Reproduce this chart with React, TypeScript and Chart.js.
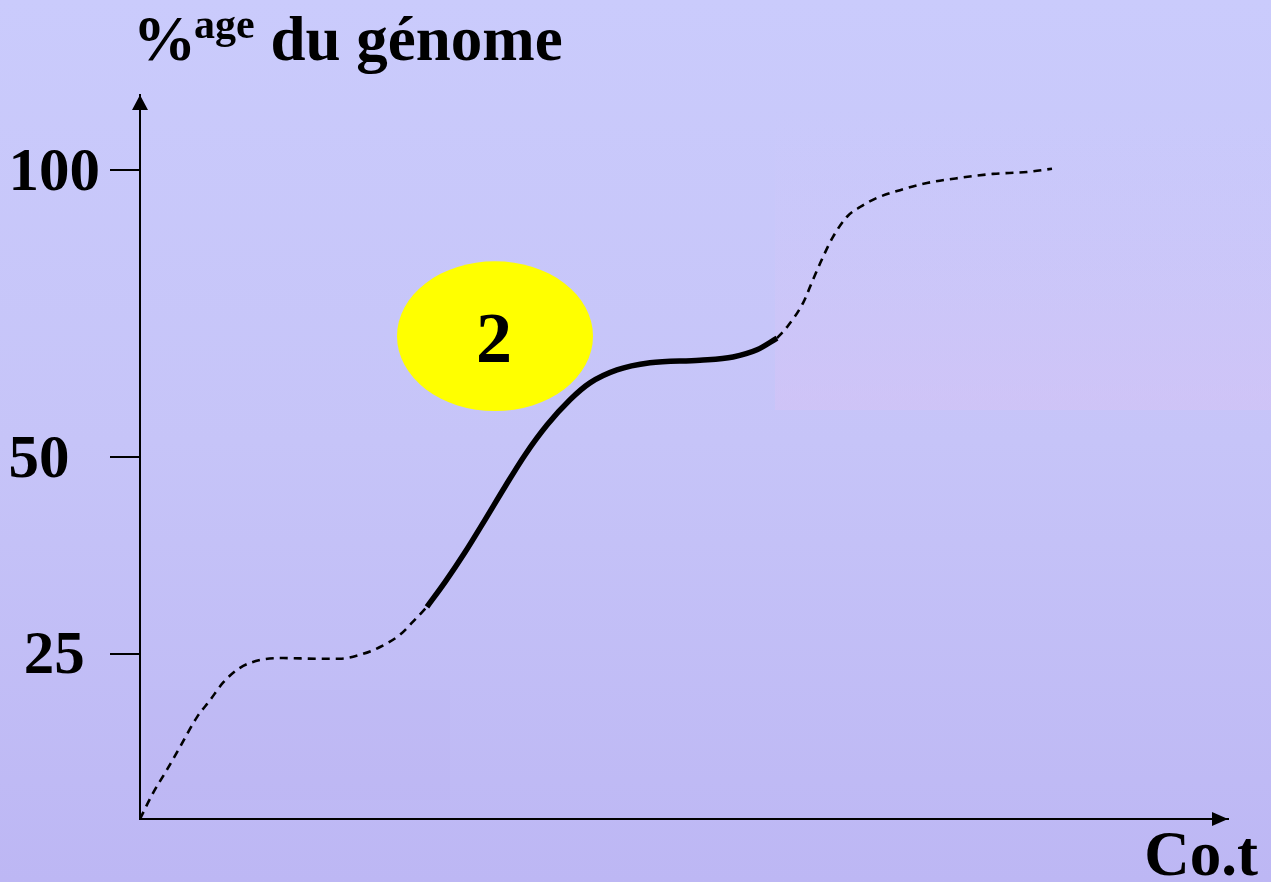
import { useEffect, useRef } from "react";
import { Chart, registerables } from "chart.js";

Chart.register(...registerables);

// Phase 1 (dashed, rapid reassociation)
const phase1X = [0, 1.3, 2.7, 4.0, 5.7, 7.0, 8.3, 10.0, 12.0, 14.3, 17.7, 20.0, 22.0, 24.0, 26.0, 27.3, 28.7];
const phase1Y = [0, 4.0, 7.6, 11.1, 15.7, 18.3, 21.0, 23.3, 24.5, 24.8, 24.7, 24.7, 25.3, 26.5, 28.4, 30.4, 32.7];
// Phase 2 (solid, highlighted)
const phase2X = [28.7, 30.5, 32.5, 34.5, 36.5, 38.5, 40.7, 43.0, 45.0, 47.7, 51.0, 56.0, 59.3, 61.7, 63.7];
const phase2Y = [32.7, 36.5, 41.1, 46.1, 51.2, 56.1, 60.7, 64.6, 67.2, 69.2, 70.3, 70.7, 71.2, 72.3, 74.1];
// Phase 3 (dashed, slow reassociation)
const phase3X = [63.7, 64.7, 66.3, 67.3, 68.3, 69.3, 70.7, 72.0, 73.7, 76.0, 78.7, 82.0, 85.3, 88.7, 91.2];
const phase3Y = [74.1, 75.8, 79.5, 83.1, 86.6, 89.7, 92.8, 94.3, 95.7, 96.9, 98.0, 98.8, 99.4, 99.7, 100.2];

// Y axis: tick positions and their printed labels
const yTickValues = [25.5, 55.8, 100];
const yTickLabels = ["25 ", "50  ", "100"];
const Y_MAX = 111.56;
const X_MAX = 108.8;

// Highlight badge
const badgeCenter = { x: 35.5, y: 74.4 };
const badgeRadius = { x: 9.8, y: 11.55 };
const badgeText = "2";

const titleMain = "%";
const titleSup = "age";
const titleRest = "du génome";
const xAxisTitle = "Co.t";

const SERIF = '"Liberation Serif", "Times New Roman", serif';

const toPoints = (xs: number[], ys: number[]) => xs.map((x, i) => ({ x, y: ys[i] }));

const decorPlugin = {
  id: "decor",
  beforeDraw(chart: any) {
    const { ctx, width, height } = chart;
    ctx.save();
    const g = ctx.createLinearGradient(0, 0, 0, height);
    g.addColorStop(0, "#CACBFC");
    g.addColorStop(0.5, "#C6C4F8");
    g.addColorStop(1, "#BDB7F4");
    ctx.fillStyle = g;
    ctx.fillRect(0, 0, width, height);
    // faint tinted panels
    const g2 = ctx.createLinearGradient(0, 108, 0, 410);
    g2.addColorStop(0, "rgba(210,200,250,0.0)");
    g2.addColorStop(1, "rgba(215,195,245,0.5)");
    ctx.fillStyle = g2;
    ctx.fillRect(775, 108, width - 775, 302);
    ctx.fillStyle = "rgba(180,165,240,0.08)";
    ctx.fillRect(145, 690, 305, 110);
    ctx.restore();
  },
  afterDraw(chart: any) {
    const { ctx, chartArea, scales } = chart;
    const xs = scales.x;
    const ys = scales.y;
    ctx.save();
    ctx.fillStyle = "#000";
    // y arrow
    ctx.beginPath();
    ctx.moveTo(chartArea.left, chartArea.top);
    ctx.lineTo(chartArea.left - 8, chartArea.top + 15);
    ctx.lineTo(chartArea.left + 8, chartArea.top + 15);
    ctx.closePath();
    ctx.fill();
    // x arrow
    ctx.beginPath();
    ctx.moveTo(chartArea.right, chartArea.bottom);
    ctx.lineTo(chartArea.right - 16, chartArea.bottom - 7);
    ctx.lineTo(chartArea.right - 16, chartArea.bottom + 7);
    ctx.closePath();
    ctx.fill();

    // badge
    const cx = xs.getPixelForValue(badgeCenter.x);
    const cy = ys.getPixelForValue(badgeCenter.y);
    const rx = Math.abs(xs.getPixelForValue(badgeCenter.x + badgeRadius.x) - cx);
    const ry = Math.abs(ys.getPixelForValue(badgeCenter.y + badgeRadius.y) - cy);
    ctx.beginPath();
    ctx.ellipse(cx, cy, rx, ry, 0, 0, Math.PI * 2);
    ctx.fillStyle = "#FFFF00";
    ctx.fill();
    ctx.fillStyle = "#000";
    ctx.font = `bold 72px ${SERIF}`;
    ctx.textAlign = "center";
    ctx.textBaseline = "alphabetic";
    ctx.fillText(badgeText, cx - 1, cy + 26);

    // title
    ctx.textAlign = "left";
    ctx.font = `bold 63px ${SERIF}`;
    let tx = 133;
    ctx.fillText(titleMain, tx, 60);
    tx += ctx.measureText(titleMain).width - 2;
    ctx.font = `bold 42px ${SERIF}`;
    ctx.fillText(titleSup, tx, 38);
    tx += ctx.measureText(titleSup).width;
    ctx.font = `bold 63px ${SERIF}`;
    ctx.fillText(" " + titleRest, tx, 60);

    // x axis title
    ctx.textAlign = "right";
    ctx.fillText(xAxisTitle, 1258, 875);
    ctx.restore();
  },
};

export default function App() {
  const ref = useRef<HTMLCanvasElement | null>(null);
  useEffect(() => {
    if (!ref.current) return;
    const dashed = {
      borderColor: "#000",
      borderWidth: 2.6,
      borderDash: [8, 6],
      pointRadius: 0,
      fill: false,
      cubicInterpolationMode: "monotone" as const,
    };
    const chart = new Chart(ref.current, {
      type: "line",
      data: {
        datasets: [
          { ...dashed, label: "phase 1", data: toPoints(phase1X, phase1Y) },
          {
            label: "phase 2",
            data: toPoints(phase2X, phase2Y),
            borderColor: "#000",
            borderWidth: 5.5,
            pointRadius: 0,
            fill: false,
            cubicInterpolationMode: "monotone",
          },
          { ...dashed, label: "phase 3", data: toPoints(phase3X, phase3Y) },
        ],
      },
      options: {
        animation: false,
        responsive: true,
        maintainAspectRatio: false,
        layout: { padding: { top: 95, right: 43, left: 0, bottom: 0 } },
        plugins: { legend: { display: false }, tooltip: { enabled: false }, title: { display: false } },
        scales: {
          x: {
            type: "linear",
            min: 0,
            max: X_MAX,
            ticks: { display: false },
            grid: { display: false, drawTicks: false },
            border: { display: true, color: "#000", width: 2 },
            afterFit: (s: any) => {
              s.height = 63;
            },
          },
          y: {
            type: "linear",
            min: 0,
            max: Y_MAX,
            afterBuildTicks: (s: any) => {
              s.ticks = yTickValues.map((v) => ({ value: v }));
            },
            ticks: {
              callback: (_v: any, i: number) => yTickLabels[i],
              font: { family: SERIF, size: 61, weight: "bold" },
              color: "#000",
              padding: 10,
              labelOffset: 4,
              autoSkip: false,
              maxRotation: 0,
            },
            grid: {
              display: true,
              drawOnChartArea: false,
              drawTicks: true,
              tickLength: 30,
              color: "#000",
              lineWidth: 2,
            },
            border: { display: true, color: "#000", width: 2 },
            afterFit: (s: any) => {
              s.width = 140;
            },
          },
        },
      },
      plugins: [decorPlugin],
    });
    return () => chart.destroy();
  }, []);
  return (
    <div style={{ position: "fixed", left: 0, top: 0, width: 1271, height: 882 }}>
      <canvas ref={ref} />
    </div>
  );
}
